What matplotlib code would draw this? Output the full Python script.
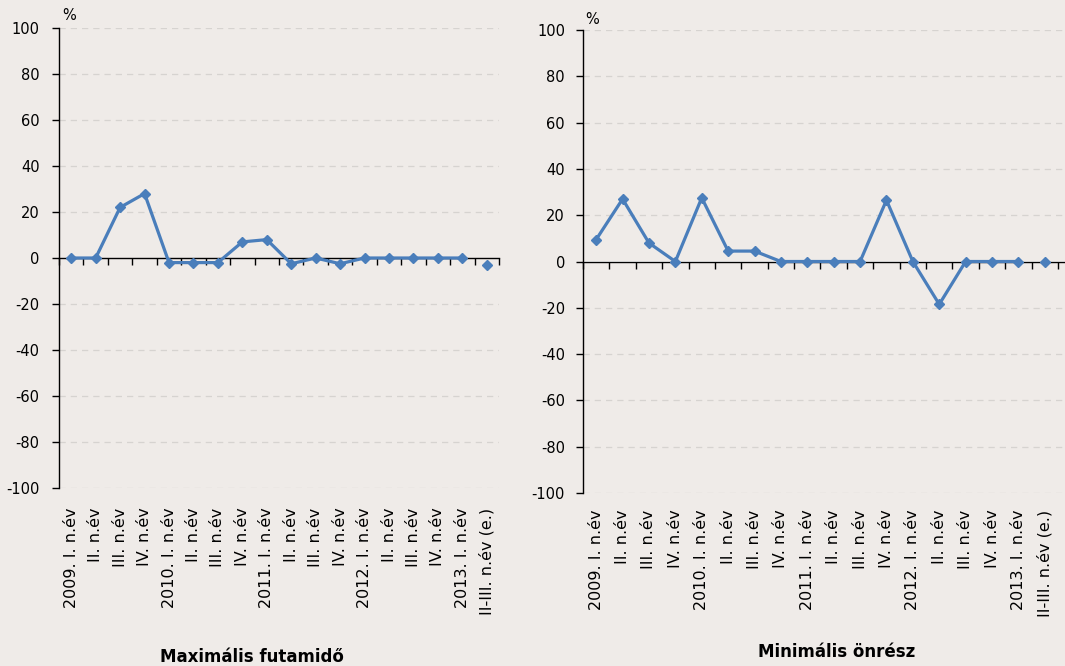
import matplotlib
matplotlib.use("Agg")
import matplotlib.pyplot as plt
import numpy as np

categories = ["2009. I. n.év", "II. n.év", "III. n.év", "IV. n.év",
              "2010. I. n.év", "II. n.év", "III. n.év", "IV. n.év",
              "2011. I. n.év", "II. n.év", "III. n.év", "IV. n.év",
              "2012. I. n.év", "II. n.év", "III. n.év", "IV. n.év",
              "2013. I. n.év", "II-III. n.év (e.)"]

max_futamido = [0, 0, 22, 28, -2, -2, -2, 7, 8, -2.5, 0, -2.5, 0, 0, 0, 0, 0, -3]
min_onresz = [9.5, 27, 8, 0, 27.5, 4.5, 4.5, 0, 0, 0, 0, 26.5, 0, -18.5, 0, 0, 0, 0]
# number of leading points joined by the line (last point is an estimate, shown alone)
n_connected = 17

titles = ["Maximális futamidő", "Minimális önrész"]
y_ticks = [-100, -80, -60, -40, -20, 0, 20, 40, 60, 80, 100]

bg = "#efebe8"
blue = "#4a7ebb"

plt.rcParams["font.family"] = ["DejaVu Sans"]
plt.rcParams["axes.unicode_minus"] = False

fig = plt.figure(figsize=(10.65, 6.66), dpi=100, facecolor=bg)

W, H = 1065, 666
boxes = [(59, 28, 499, 488), (583, 30, 1065, 493)]
xright = [17.5, 17.5 + (1065 - 1058) / 26.35]
title_pos = [(252, 657), (837, 652)]
pct_pos = [(69, 16), (592, 20)]
ypads = [9, 8]
xpads = [10, 8]

for i, (vals, title) in enumerate(zip([max_futamido, min_onresz], titles)):
    x0, y0, x1, y1 = boxes[i]
    ax = fig.add_axes([x0 / W, 1 - y1 / H, (x1 - x0) / W, (y1 - y0) / H])
    ax.set_facecolor(bg)
    x = np.arange(len(categories))
    ax.set_xlim(-0.5, xright[i])
    ax.set_ylim(-100, 100)

    for yt in y_ticks:
        if yt != 0:
            ax.axhline(yt, color="#d6d3d0", lw=0.9, ls=(0, (5, 4)), zorder=0)

    ax.plot(x[:n_connected], vals[:n_connected], color=blue, lw=2.3,
            marker="D", ms=5.5, zorder=3, clip_on=False)
    ax.plot(x[n_connected:], vals[n_connected:], color=blue, lw=0,
            marker="D", ms=5.5, zorder=3, clip_on=False)

    for s in ["top", "right", "bottom"]:
        ax.spines[s].set_visible(False)
    ax.spines["left"].set_color("black")
    ax.spines["left"].set_linewidth(1.0)

    ax.set_yticks(y_ticks)
    ax.set_yticklabels([str(v) for v in y_ticks])
    ax.tick_params(axis="y", direction="out", length=5, width=1,
                   pad=ypads[i], labelsize=10.5, colors="black")

    ax.set_xticks(x)
    ax.set_xticklabels(categories, rotation=90, fontsize=11.5)
    ax.tick_params(axis="x", length=0, pad=xpads[i] + 4)

    sec = ax.secondary_xaxis(0, transform=ax.transData)
    sec.set_xticks(np.arange(-0.5, len(categories) + 0.5, 1))
    sec.set_xticklabels([])
    sec.tick_params(axis="x", direction="out", length=5, width=1, colors="black")
    sec.spines["bottom"].set_color("black")
    sec.spines["bottom"].set_linewidth(1.0)

    fig.text(pct_pos[i][0] / W, 1 - pct_pos[i][1] / H, "%", fontsize=10.5,
             ha="center", va="center")
    fig.text(title_pos[i][0] / W, 1 - title_pos[i][1] / H, title, fontsize=12,
             fontweight="bold", ha="center", va="center")

fig.savefig("out.png", dpi=100, facecolor=bg)
